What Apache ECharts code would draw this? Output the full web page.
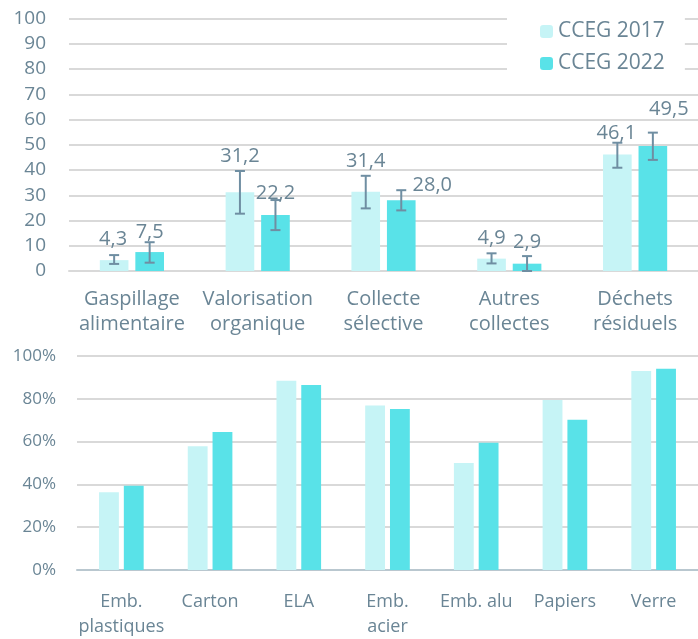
<!DOCTYPE html>
<html>
<head>
<meta charset="utf-8">
<script src="https://cdn.jsdelivr.net/npm/echarts@6/dist/echarts.min.js"></script>
<style>
  html, body { margin: 0; padding: 0; background: #fff; }
  #chart { width: 698px; height: 639px; }
</style>
</head>
<body>
<div id="chart"></div>
<script>
const seriesNames = ['CCEG 2017', 'CCEG 2022']

// top chart: kg per inhabitant, with error ranges
const topCategories = ['Gaspillage\nalimentaire', 'Valorisation\norganique', 'Collecte\nsélective', 'Autres\ncollectes', 'Déchets\nrésiduels']
const top2017 = [4.3, 31.2, 31.4, 4.9, 46.1]
const top2022 = [7.5, 22.2, 28.0, 2.9, 49.5]
const err2017 = [[2.8, 6.3], [22.7, 39.6], [24.8, 37.7], [3.0, 7.0], [40.9, 50.8]]
const err2022 = [[3.3, 11.4], [16.2, 28.1], [24.0, 32.0], [0.0, 5.9], [44.0, 54.8]]

// bottom chart: rates in %
const bottomCategories = ['Emb.\nplastiques', 'Carton', 'ELA', 'Emb.\nacier', 'Emb. alu', 'Papiers', 'Verre']
const rate2017 = [36.3, 57.8, 88.4, 76.9, 50.0, 79.4, 93.0]
const rate2022 = [39.4, 64.5, 86.5, 75.2, 59.5, 70.2, 94.1]

// label nudges (px) relative to the top of each error bar
const shift2017 = [[-1, -16], [0, -15], [0, -15], [0, -15], [-1, -9]]
const shift2022 = [[0, -10], [0, -7], [31, -5], [0, -14], [16, -23]]

const light = '#c6f4f6'
const dark = '#59e2e8'
const textColor = '#6a8595'
const errColor = '#6f8ea2'
const font = '"Open Sans", sans-serif'
const catGap = 0.49
const barGap = 0.24

const fmt = v => v.toFixed(1).replace('.', ',')

const errorRenderer = (side, shifts) => (params, api) => {
  const i = api.value(0)
  const band = api.size([1, 0])[0]
  const w = band * (1 - catGap) / (2 + barGap)
  const x = api.coord([i, 0])[0] + side * w * (1 + barGap) / 2
  const lo = api.coord([i, api.value(1)])[1]
  const hi = api.coord([i, api.value(2)])[1]
  const s = shifts[params.dataIndex]
  const stroke = { stroke: errColor, lineWidth: 2 }
  return {
    type: 'group',
    children: [
      { type: 'line', shape: { x1: x, y1: lo, x2: x, y2: hi }, style: stroke },
      { type: 'line', shape: { x1: x - 5, y1: lo, x2: x + 5, y2: lo }, style: stroke },
      { type: 'line', shape: { x1: x - 5, y1: hi, x2: x + 5, y2: hi }, style: stroke },
      {
        type: 'text',
        x: x + s[0],
        y: hi + s[1],
        style: {
          text: fmt(api.value(3)),
          align: 'center',
          verticalAlign: 'middle',
          fill: textColor,
          font: '20px ' + font
        }
      }
    ]
  }
}

const errData = (err, vals) => err.map((e, i) => [i, e[0], e[1], vals[i]])

const chart = echarts.init(document.getElementById('chart'))

const option = {
  animation: false,
  textStyle: { fontFamily: font },
  legend: {
    data: seriesNames,
    orient: 'vertical',
    left: 507,
    top: 0,
    padding: [21, 20, 8, 33],
    backgroundColor: '#fff',
    itemWidth: 13,
    itemHeight: 13,
    itemGap: 11,
    z: 10,
    textStyle: { color: textColor, fontSize: 21, fontFamily: font }
  },
  grid: [
    { left: 69, top: 18.5, width: 635, height: 252.5 },
    { left: 77, top: 356, width: 627, height: 214.7 }
  ],
  xAxis: [
    {
      type: 'category', gridIndex: 0, data: topCategories,
      axisLine: { lineStyle: { color: '#d9d9d9', width: 2 } },
      axisTick: { show: false },
      axisLabel: { color: textColor, fontSize: 20, lineHeight: 25, margin: 16, interval: 0 }
    },
    {
      type: 'category', gridIndex: 1, data: bottomCategories,
      axisLine: { lineStyle: { color: '#b9c7cf', width: 2 } },
      axisTick: { show: false },
      axisLabel: { color: textColor, fontSize: 18, lineHeight: 25, margin: 19, interval: 0 }
    }
  ],
  yAxis: [
    {
      type: 'value', gridIndex: 0, min: 0, max: 100, interval: 10,
      axisLabel: { color: textColor, fontSize: 19, margin: 23 },
      splitLine: { lineStyle: { color: '#d9d9d9', width: 2 } }
    },
    {
      type: 'value', gridIndex: 1, min: 0, max: 100, interval: 20,
      axisLabel: { color: textColor, fontSize: 17, margin: 21, formatter: '{value}%' },
      splitLine: { lineStyle: { color: '#d9d9d9', width: 2 } }
    }
  ],
  series: [
    {
      name: seriesNames[0], type: 'bar', xAxisIndex: 0, yAxisIndex: 0,
      data: top2017, itemStyle: { color: light },
      barGap: barGap * 100 + '%', barCategoryGap: catGap * 100 + '%'
    },
    {
      name: seriesNames[1], type: 'bar', xAxisIndex: 0, yAxisIndex: 0,
      data: top2022, itemStyle: { color: dark },
      barGap: barGap * 100 + '%', barCategoryGap: catGap * 100 + '%'
    },
    {
      type: 'custom', xAxisIndex: 0, yAxisIndex: 0, z: 5,
      renderItem: errorRenderer(-1, shift2017),
      encode: { x: 0, y: [1, 2] },
      data: errData(err2017, top2017)
    },
    {
      type: 'custom', xAxisIndex: 0, yAxisIndex: 0, z: 5,
      renderItem: errorRenderer(1, shift2022),
      encode: { x: 0, y: [1, 2] },
      data: errData(err2022, top2022)
    },
    {
      name: seriesNames[0], type: 'bar', xAxisIndex: 1, yAxisIndex: 1,
      data: rate2017, itemStyle: { color: light },
      barGap: '25%', barCategoryGap: '49.7%'
    },
    {
      name: seriesNames[1], type: 'bar', xAxisIndex: 1, yAxisIndex: 1,
      data: rate2022, itemStyle: { color: dark },
      barGap: '25%', barCategoryGap: '49.7%'
    }
  ]
}

chart.setOption(option)
</script>
</body>
</html>
